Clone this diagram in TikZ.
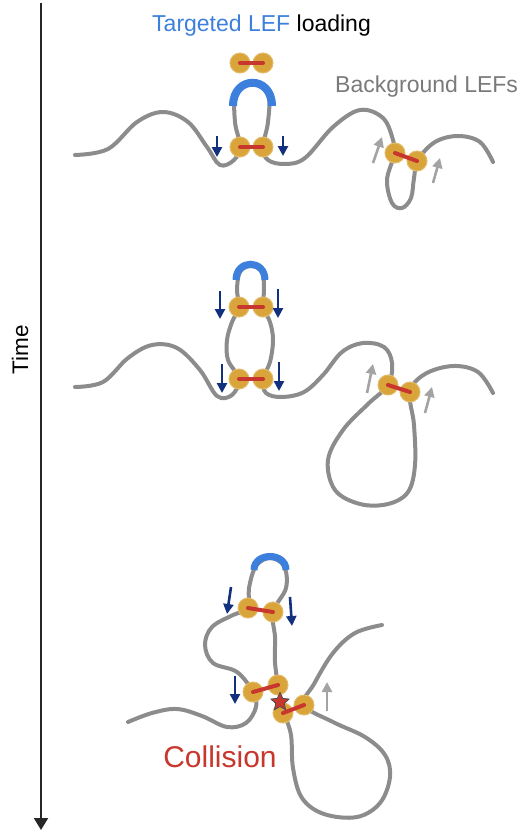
\documentclass[tikz,border=0pt]{standalone}
\usepackage{fontspec}
\setmainfont{Liberation Sans}
\usetikzlibrary{arrows.meta,shapes.geometric}

\definecolor{fibergray}{HTML}{8C8C8C}
\definecolor{lefgold}{HTML}{D9A43A}
\definecolor{lefred}{HTML}{C8372D}
\definecolor{loaderblue}{HTML}{3C7FDC}
\definecolor{navyblue}{HTML}{12307E}
\definecolor{softgray}{HTML}{A3A3A3}
\definecolor{textgray}{HTML}{7A7A7A}

% one loop extruder: two rings joined by a bar
\newcommand{\lefpair}[2]{%
  \filldraw[lefring] (#1) circle (10pt);
  \filldraw[lefring] (#2) circle (10pt);
  \draw[lefbar] (#1) -- (#2);
}

\begin{document}
\begin{tikzpicture}[x=1pt, y=-1pt,
    fiber/.style={draw=fibergray, line width=4pt, line cap=round},
    loader/.style={draw=loaderblue, line width=8pt},
    lefring/.style={fill=lefgold, draw=lefgold!75!white, line width=1pt},
    lefbar/.style={draw=lefred, line width=4pt, line cap=round},
    pushdown/.style={navyblue, line width=2.6pt, -{Triangle[length=10pt, width=10pt]}},
    pushup/.style={softgray, line width=2.6pt, -{Triangle[length=10pt, width=10pt]}},
    timeaxis/.style={draw=black!85, line width=2pt, -{Triangle[length=12pt, width=14pt]}}]

\useasboundingbox (0,0) rectangle (530,831);

% Time axis
\coordinate (ttop) at (41,3);
\coordinate (tbot) at (41,830);
\draw[timeaxis] (ttop) -- (tbot);
\node[rotate=90, font=\fontsize{22.5}{26}\selectfont] (timelabel) at (20,350) {Time};

% Labels
\node[anchor=base west, inner sep=0, font=\fontsize{23}{27}\selectfont] (title) at (152,31)
  {\textcolor{loaderblue}{Targeted LEF} loading};
\node[anchor=base west, inner sep=0, text=textgray, font=\fontsize{23}{27}\selectfont] (bglabel) at (335,92)
  {Background LEFs};

% ---- first frame ----
\draw[fiber] plot[smooth, tension=0.6] coordinates {(75,155) (108,149) (137,122) (163,112) (188,122)
  (207,147) (220,165) (234,160) (240,146) (235,122) (236,95) (252,83) (268,95) (268,122)
  (263,147) (268,160) (285,164) (305,158) (333,127) (360,110) (383,118) (393,140) (394,155)
  (387,180) (392,203) (402,208) (411,198) (414,178) (418,160) (435,142) (458,136) (480,142)
  (493,162)};
\draw[loader] (233,106) .. controls (233,75) and (272,75) .. (272,106);
\lefpair{240,63}{263,63}
\lefpair{240,147}{263,147}
\lefpair{395,153}{417,161}
\draw[pushdown] (217,136) -- (217,157);
\draw[pushdown] (283,136) -- (283,156);
\draw[pushup] (373,163) -- (382,137);
\draw[pushup] (433,183) -- (440,158);

% ---- second frame ----
\draw[fiber] plot[smooth, tension=0.6] coordinates {(75,387) (103,382) (128,358) (152,345) (177,348)
  (200,370) (217,396) (232,395) (239,379) (228,360) (227,340) (232,322) (239,307) (237,290)
  (240,272) (251,266) (262,272) (264,290) (263,307) (270,322) (273,340) (270,362) (263,379)
  (266,393) (282,397) (304,392) (323,375) (342,352) (363,343) (384,347) (392,363) (388,385)
  (368,404) (343,430) (328,460) (335,490) (360,504) (388,504) (408,492) (415,465) (414,425)
  (410,392) (425,374) (453,366) (478,372) (493,393)};
\draw[loader, line width=7pt] (236,280) .. controls (236,259) and (265,259) .. (265,280);
\lefpair{239,307}{263,307}
\lefpair{239,379}{263,379}
\lefpair{388,385}{410,392}
\draw[pushdown] (220,291) -- (220,319);
\draw[pushdown] (278,289) -- (278,318);
\draw[pushdown] (222,364) -- (222,393);
\draw[pushdown] (279,362) -- (279,391);
\draw[pushup] (367,393) -- (373,364);
\draw[pushup] (425,413) -- (432,387);

% ---- third frame ----
\draw[fiber] plot[smooth, tension=0.6] coordinates {(128,722) (152,713) (177,709) (202,716) (227,727)
  (246,723) (256,707) (253,692) (237,672) (213,663) (205,645) (212,627) (233,615) (248,608)
  (249,588) (256,566) (270,558) (284,566) (286,588) (273,612) (275,637) (275,662) (278,685)
  (281,700) (284,713) (291,735) (293,768) (302,798) (324,814) (357,817) (380,803) (390,777)
  (385,755) (365,737) (333,722) (304,705) (314,684) (333,653) (355,633) (382,625)};
\draw[loader, line width=7pt] (254,570) .. controls (254,552) and (286,552) .. (286,570);
\lefpair{248,608}{273,612}
\lefpair{253,692}{278,685}
\lefpair{283,713}{304,705}
\draw[pushdown] (231,587) -- (227,614);
\draw[pushdown] (290,597) -- (292,626);
\draw[pushdown] (235,676) -- (235,704);
\draw[pushup] (327,711) -- (327,682);
\node[star, star points=5, star point ratio=2.1, minimum size=19pt, inner sep=0,
  fill=lefred, draw=black!70, line width=0.8pt] (clash) at (280,702) {};
\node[anchor=base, inner sep=0, text=lefred, font=\fontsize{30}{34}\selectfont] (collision) at (220,767)
  {Collision};

\end{tikzpicture}
\end{document}
